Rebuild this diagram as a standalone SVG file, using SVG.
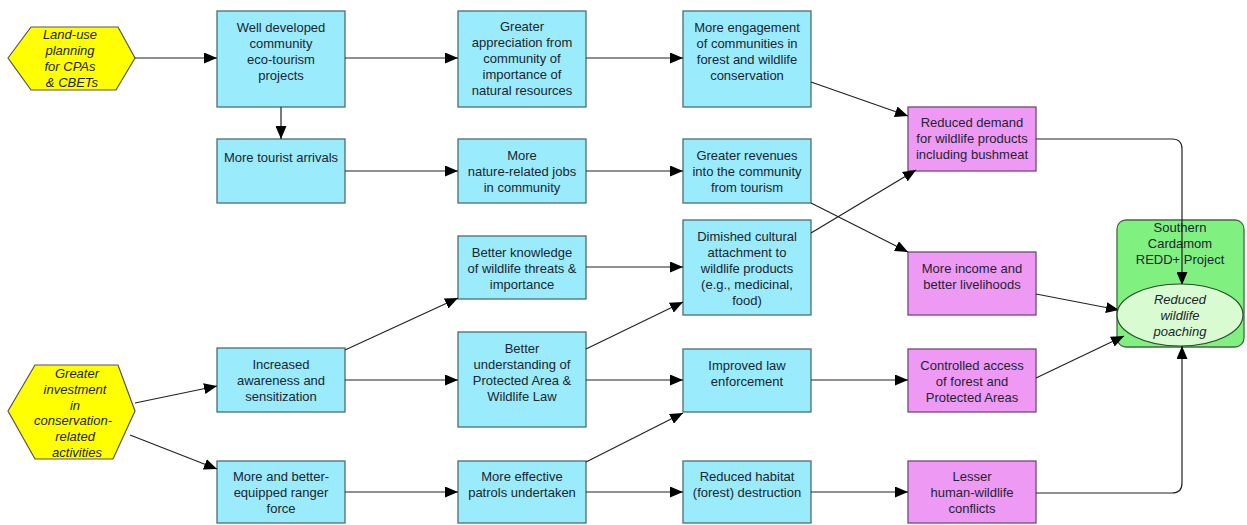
<svg xmlns="http://www.w3.org/2000/svg" width="1247" height="525" viewBox="0 0 1247 525">
<defs>
<marker id="ah" viewBox="0 0 13 11" refX="13" refY="5.5" markerWidth="13" markerHeight="11" markerUnits="userSpaceOnUse" orient="auto">
<path d="M0,0 L13,5.5 L0,11 Z" fill="#000"/>
</marker>
<style>
.b{fill:#9aebfb;stroke:#4d6d72;stroke-width:1.3}
.p{fill:#ee99f4;stroke:#6e4a78;stroke-width:1.3}
.h{fill:#ffff00;stroke:#555;stroke-width:1.2}
text{font-family:"Liberation Sans",Arial,sans-serif;font-size:13px;fill:#1c2530;text-anchor:middle}
.i{font-style:italic}
.c{fill:none;stroke:#222;stroke-width:1.2;marker-end:url(#ah)}
</style>
</defs>
<rect width="1247" height="525" fill="#fff"/>

<g id="n_landuse">
<polygon class="h" points="8,58 31,27 118,27 135,58 116,90 31,90"/>
<text class="i" x="70" y="39">Land-use</text>
<text class="i" x="70" y="55">planning</text>
<text class="i" x="70" y="71">for CPAs</text>
<text class="i" x="72" y="87">&amp; CBETs</text>
</g>
<g id="n_invest">
<polygon class="h" points="8,411 35,365 118,365 135,411 113,459 35,459"/>
<text class="i" x="77" y="378">Greater</text>
<text class="i" x="75" y="394">investment</text>
<text class="i" x="75" y="410">in</text>
<text class="i" x="73" y="425">conservation-</text>
<text class="i" x="75" y="441">related</text>
<text class="i" x="77" y="457">activities</text>
</g>

<g id="n_eco">
<rect class="b" x="217" y="11" width="128" height="96"/>
<text x="281" y="32">Well developed</text>
<text x="281" y="48">community</text>
<text x="281" y="64">eco-tourism</text>
<text x="281" y="80">projects</text>
</g>
<g id="n_tourist">
<rect class="b" x="217" y="139" width="128" height="64"/>
<text x="281" y="162">More tourist arrivals</text>
</g>
<g id="n_aware">
<rect class="b" x="217" y="348" width="128" height="64"/>
<text x="281" y="369">Increased</text>
<text x="281" y="385">awareness and</text>
<text x="281" y="401">sensitization</text>
</g>
<g id="n_ranger">
<rect class="b" x="217" y="461" width="128" height="62"/>
<text x="281" y="481">More and better-</text>
<text x="281" y="497">equipped ranger</text>
<text x="281" y="513">force</text>
</g>

<g id="n_apprec">
<rect class="b" x="458" y="11" width="128" height="96"/>
<text x="522" y="31">Greater</text>
<text x="522" y="47">appreciation from</text>
<text x="522" y="63">community of</text>
<text x="522" y="79">importance of</text>
<text x="522" y="95">natural resources</text>
</g>
<g id="n_jobs">
<rect class="b" x="458" y="139" width="128" height="64"/>
<text x="522" y="160">More</text>
<text x="522" y="176">nature-related jobs</text>
<text x="522" y="192">in community</text>
</g>
<g id="n_knowledge">
<rect class="b" x="458" y="236" width="128" height="63"/>
<text x="522" y="257">Better knowledge</text>
<text x="522" y="273">of wildlife threats &amp;</text>
<text x="522" y="289">importance</text>
</g>
<g id="n_understand">
<rect class="b" x="458" y="332" width="128" height="95"/>
<text x="522" y="353">Better</text>
<text x="522" y="369">understanding of</text>
<text x="522" y="385">Protected Area &amp;</text>
<text x="522" y="401">Wildlife Law</text>
</g>
<g id="n_patrols">
<rect class="b" x="458" y="461" width="128" height="62"/>
<text x="522" y="481">More effective</text>
<text x="522" y="497">patrols undertaken</text>
</g>

<g id="n_engage">
<rect class="b" x="683" y="11" width="128" height="96"/>
<text x="747" y="32">More engagement</text>
<text x="747" y="48">of communities in</text>
<text x="747" y="64">forest and wildlife</text>
<text x="747" y="80">conservation</text>
</g>
<g id="n_revenue">
<rect class="b" x="683" y="139" width="128" height="64"/>
<text x="747" y="160">Greater revenues</text>
<text x="747" y="176">into the community</text>
<text x="747" y="192">from tourism</text>
</g>
<g id="n_cultural">
<rect class="b" x="683" y="220" width="128" height="95"/>
<text x="747" y="241">Dimished cultural</text>
<text x="747" y="257">attachment to</text>
<text x="747" y="273">wildlife products</text>
<text x="747" y="289">(e.g., medicinal,</text>
<text x="747" y="305">food)</text>
</g>
<g id="n_law">
<rect class="b" x="683" y="349" width="128" height="63"/>
<text x="747" y="370">Improved law</text>
<text x="747" y="386">enforcement</text>
</g>
<g id="n_habitat">
<rect class="b" x="683" y="461" width="128" height="62"/>
<text x="747" y="481">Reduced habitat</text>
<text x="747" y="497">(forest) destruction</text>
</g>

<g id="n_demand">
<rect class="p" x="908" y="107" width="128" height="64"/>
<text x="972" y="127">Reduced demand</text>
<text x="972" y="143">for wildlife products</text>
<text x="972" y="159">including bushmeat</text>
</g>
<g id="n_income">
<rect class="p" x="908" y="252" width="128" height="63"/>
<text x="972" y="273">More income and</text>
<text x="972" y="289">better livelihoods</text>
</g>
<g id="n_access">
<rect class="p" x="908" y="349" width="128" height="63"/>
<text x="972" y="370">Controlled access</text>
<text x="972" y="386">of forest and</text>
<text x="972" y="402">Protected Areas</text>
</g>
<g id="n_conflict">
<rect class="p" x="908" y="461" width="128" height="62"/>
<text x="972" y="481">Lesser</text>
<text x="972" y="497">human-wildlife</text>
<text x="972" y="513">conflicts</text>
</g>

<g id="n_redd">
<rect x="1117" y="220" width="127" height="127" rx="9" fill="#80f080" stroke="#3b6e3b" stroke-width="1.3"/>
<text x="1180" y="232">Southern</text>
<text x="1180" y="248">Cardamom</text>
<text x="1180" y="264">REDD+ Project</text>
</g>

<g id="connectors">
<path class="c" d="M135,58 L217,58"/>
<path class="c" d="M281,107 L281,139"/>
<path class="c" d="M345,58 L458,58"/>
<path class="c" d="M586,58 L683,58"/>
<path class="c" d="M811,82 L908,116"/>
<path class="c" d="M345,171 L458,171"/>
<path class="c" d="M586,171 L683,171"/>
<path class="c" d="M811,203 L908,252"/>
<path class="c" d="M811,233 L916,170"/>
<path class="c" d="M1036,139 L1172,139 Q1182,139 1182,149 L1182,285"/>
<path class="c" d="M1036,294 L1119,310"/>
<path class="c" d="M1036,378 L1124,336"/>
<path class="c" d="M1036,493 L1172,493 Q1182,493 1182,483 L1182,346"/>
<path class="c" d="M135,403 L217,386"/>
<path class="c" d="M130,435 L217,469"/>
<path class="c" d="M345,350 L458,298"/>
<path class="c" d="M345,380 L458,380"/>
<path class="c" d="M586,267 L683,267"/>
<path class="c" d="M586,349 L683,302"/>
<path class="c" d="M586,380 L683,380"/>
<path class="c" d="M811,380 L908,380"/>
<path class="c" d="M345,492 L458,492"/>
<path class="c" d="M586,462 L683,413"/>
<path class="c" d="M586,492 L683,492"/>
<path class="c" d="M811,492 L908,492"/>
</g>

<g id="n_poaching">
<ellipse cx="1180" cy="315" rx="63" ry="31" fill="#d8fbd2" stroke="#2b4a2b" stroke-width="1.2"/>
<text class="i" x="1180" y="304">Reduced</text>
<text class="i" x="1180" y="320">wildlife</text>
<text class="i" x="1180" y="336">poaching</text>
</g>
</svg>
